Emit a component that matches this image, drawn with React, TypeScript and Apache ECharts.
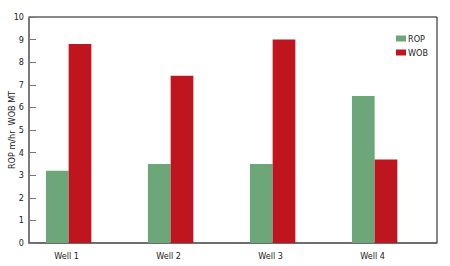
import React, { useEffect, useRef } from "react";
import * as echarts from "echarts";

const categories = ["Well 1", "Well 2", "Well 3", "Well 4"];
const ropValues = [3.2, 3.5, 3.5, 6.5];
const wobValues = [8.8, 7.4, 9.0, 3.7];
const spacerValues = [0, 0, 0, 0];
const yTicks = [0, 10, 1];

const FONT = "'Liberation Sans Narrow', 'DejaVu Sans Condensed', 'Roboto', sans-serif";

export default function App() {
  const ref = useRef<HTMLDivElement>(null);
  useEffect(() => {
    if (!ref.current) return;
    const chart = echarts.init(ref.current, undefined, { renderer: "svg" });
    chart.setOption({
      animation: false,
      backgroundColor: "#ffffff",
      textStyle: { fontFamily: FONT },
      grid: {
        left: 29, right: 13, top: 17, bottom: 23,
        containLabel: false, outerBoundsMode: "none",
        show: true, borderColor: "#111", borderWidth: 1, backgroundColor: "transparent",
      },
      legend: {
        data: ["ROP", "WOB"],
        orient: "vertical",
        left: 391,
        top: 29,
        itemWidth: 10,
        itemHeight: 6,
        itemGap: 5,
        icon: "rect",
        textStyle: { fontFamily: FONT, fontSize: 9, color: "#222", padding: [0, 0, 0, -3] },
      },
      xAxis: {
        type: "category",
        data: categories,
        boundaryGap: true,
        axisLine: { lineStyle: { color: "#666", width: 1.5 } },
        axisTick: { show: false },
        axisLabel: { fontFamily: FONT, fontSize: 9, color: "#222", margin: 8, align: "right", padding: [0, 1, 0, 0] },
        splitLine: { show: false },
      },
      yAxis: {
        type: "value",
        min: yTicks[0],
        max: yTicks[1],
        interval: yTicks[2],
        name: "ROP m/hr  WOB MT",
        nameLocation: "middle",
        nameGap: 13,
        nameMoveOverlap: false,
        nameTextStyle: { fontFamily: FONT, fontSize: 9, color: "#222" },
        axisLine: { show: true, lineStyle: { color: "#777", width: 1.5 } },
        axisTick: { show: true, inside: true, length: 7, lineStyle: { color: "#777" } },
        axisLabel: { fontFamily: FONT, fontSize: 9, color: "#222", margin: 5 },
        splitLine: { show: false },
      },
      series: [
        { name: "ROP", type: "bar", data: ropValues, barWidth: 22.7, barGap: "0%", itemStyle: { color: "#6ca679" } },
        { name: "WOB", type: "bar", data: wobValues, barWidth: 22.7, barGap: "0%", itemStyle: { color: "#be151e" } },
        { name: "spacer", type: "bar", data: spacerValues, barWidth: 22.7, barGap: "0%", silent: true, itemStyle: { color: "rgba(0,0,0,0)" } },
      ],
    });
    return () => chart.dispose();
  }, []);
  return <div ref={ref} style={{ position: "fixed", left: 0, top: 0, width: 450, height: 266 }} />;
}
